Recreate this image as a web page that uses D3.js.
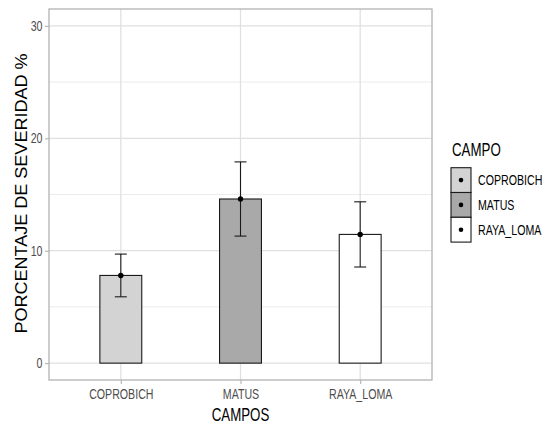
<!DOCTYPE html>
<html>
<head>
<meta charset="utf-8">
<script src="https://cdn.jsdelivr.net/npm/d3@7"></script>
<style>
  body { margin: 0; background: #fff; }
  svg { display: block; }
  text { font-family: "Liberation Sans", Arial, sans-serif; }
</style>
</head>
<body>
<svg id="chart" width="550" height="425"></svg>
<script>
// Mean severity per field, with the half-width of its error bar
const campos = ["COPROBICH", "MATUS", "RAYA_LOMA"];
const severidad = [7.8, 14.6, 11.45];
const errorBar = [1.9, 3.3, 2.9];
const fills = ["#d3d3d3", "#a9a9a9", "#ffffff"];
const yTicks = [0, 10, 20, 30];
const yMinor = [5, 15, 25];

const svg = d3.select("#chart");
const panel = { left: 49, top: 9, right: 432, bottom: 380 };
const squeeze = 0.76;   // horizontal compression applied to the lettering

// Squeeze a text horizontally around its anchor point to imitate a condensed face
function condense(sel, factor) {
  sel.each(function () {
    const x = +(this.getAttribute("x") || 0);
    d3.select(this).attr("transform", `translate(${x * (1 - factor)},0) scale(${factor},1)`);
  });
}

const y = d3.scaleLinear().domain([-1.5, 31.5]).range([panel.bottom, panel.top]);
const xBand = d3.scalePoint().domain(campos).range([panel.left, panel.right]).padding(0.6);
const unit = xBand.step();

// Panel background and grid
const g = svg.append("g");
g.append("rect").attr("x", panel.left).attr("y", panel.top)
  .attr("width", panel.right - panel.left).attr("height", panel.bottom - panel.top)
  .attr("fill", "#fff");

g.selectAll("line.minor").data(yMinor).join("line")
  .attr("x1", panel.left).attr("x2", panel.right)
  .attr("y1", d => y(d)).attr("y2", d => y(d))
  .attr("stroke", "#ebebeb").attr("stroke-width", 1);
g.selectAll("line.major").data(yTicks).join("line")
  .attr("x1", panel.left).attr("x2", panel.right)
  .attr("y1", d => y(d)).attr("y2", d => y(d))
  .attr("stroke", "#e0e0e0").attr("stroke-width", 1.3);
g.selectAll("line.vgrid").data(campos).join("line")
  .attr("x1", d => xBand(d)).attr("x2", d => xBand(d))
  .attr("y1", panel.top).attr("y2", panel.bottom)
  .attr("stroke", "#e0e0e0").attr("stroke-width", 1.3);

// Bars
const barW = 0.35 * unit;
g.selectAll("rect.bar").data(campos).join("rect")
  .attr("x", d => xBand(d) - barW / 2)
  .attr("y", (d, i) => y(severidad[i]))
  .attr("width", barW)
  .attr("height", (d, i) => y(0) - y(severidad[i]))
  .attr("fill", (d, i) => fills[i])
  .attr("stroke", "#1a1a1a").attr("stroke-width", 1.1);

// Error bars with the mean point
const capW = 0.1 * unit;
campos.forEach((c, i) => {
  const cx = xBand(c);
  const lo = y(severidad[i] - errorBar[i]);
  const hi = y(severidad[i] + errorBar[i]);
  const eb = g.append("g").attr("stroke", "#1a1a1a").attr("stroke-width", 1.1);
  eb.append("line").attr("x1", cx).attr("x2", cx).attr("y1", lo).attr("y2", hi);
  eb.append("line").attr("x1", cx - capW / 2).attr("x2", cx + capW / 2).attr("y1", lo).attr("y2", lo);
  eb.append("line").attr("x1", cx - capW / 2).attr("x2", cx + capW / 2).attr("y1", hi).attr("y2", hi);
  g.append("circle").attr("cx", cx).attr("cy", y(severidad[i])).attr("r", 2.7).attr("fill", "#000");
});

// Panel border
g.append("rect").attr("x", panel.left).attr("y", panel.top)
  .attr("width", panel.right - panel.left).attr("height", panel.bottom - panel.top)
  .attr("fill", "none").attr("stroke", "#b3b3b3").attr("stroke-width", 1.3);

// Axes
const yAxis = d3.axisLeft(y).tickValues(yTicks).tickSize(4).tickPadding(2.5);
const ya = svg.append("g").attr("transform", `translate(${panel.left},0)`).call(yAxis);
const xAxis = d3.axisBottom(xBand).tickSize(4).tickPadding(5);
const xa = svg.append("g").attr("transform", `translate(0,${panel.bottom})`).call(xAxis);
[ya, xa].forEach(a => {
  a.select(".domain").remove();
  a.selectAll(".tick line").attr("stroke", "#b3b3b3").attr("stroke-width", 1.1);
  a.selectAll(".tick text").attr("fill", "#4d4d4d").attr("font-size", 14)
    .attr("font-family", "Liberation Sans, Arial, sans-serif");
});
condense(ya.selectAll(".tick text"), squeeze);
condense(xa.selectAll(".tick text"), squeeze);

// Axis titles
const xt = svg.append("text")
  .attr("x", (panel.left + panel.right) / 2).attr("y", 421)
  .attr("text-anchor", "middle").attr("font-size", 17.5).attr("fill", "#000")
  .text("CAMPOS");
condense(xt, squeeze);
svg.append("text")
  .attr("transform", `translate(27,${(panel.top + panel.bottom) / 2 - 1}) scale(0.92,1) rotate(-90)`)
  .attr("text-anchor", "middle").attr("font-size", 17).attr("fill", "#000")
  .attr("textLength", 280).attr("lengthAdjust", "spacingAndGlyphs")
  .text("PORCENTAJE DE SEVERIDAD %");

// Legend
const lg = svg.append("g").attr("transform", "translate(451,0)");
const lt = lg.append("text").attr("x", 1).attr("y", 156)
  .attr("font-size", 17.5).attr("fill", "#000").text("CAMPO");
condense(lt, squeeze);
const keyH = 24.8, keyW = 20, key0 = 167.7;
campos.forEach((c, i) => {
  const ky = key0 + i * keyH;
  lg.append("rect").attr("x", 0).attr("y", ky).attr("width", keyW).attr("height", keyH)
    .attr("fill", fills[i]).attr("stroke", "#1a1a1a").attr("stroke-width", 1.1);
  lg.append("circle").attr("cx", keyW / 2).attr("cy", ky + keyH / 2).attr("r", 2.3).attr("fill", "#000");
  const t = lg.append("text").attr("x", keyW + 7).attr("y", ky + keyH / 2)
    .attr("dy", "0.35em").attr("font-size", 14).attr("fill", "#000").text(c);
  condense(t, squeeze);
});
</script>
</body>
</html>
